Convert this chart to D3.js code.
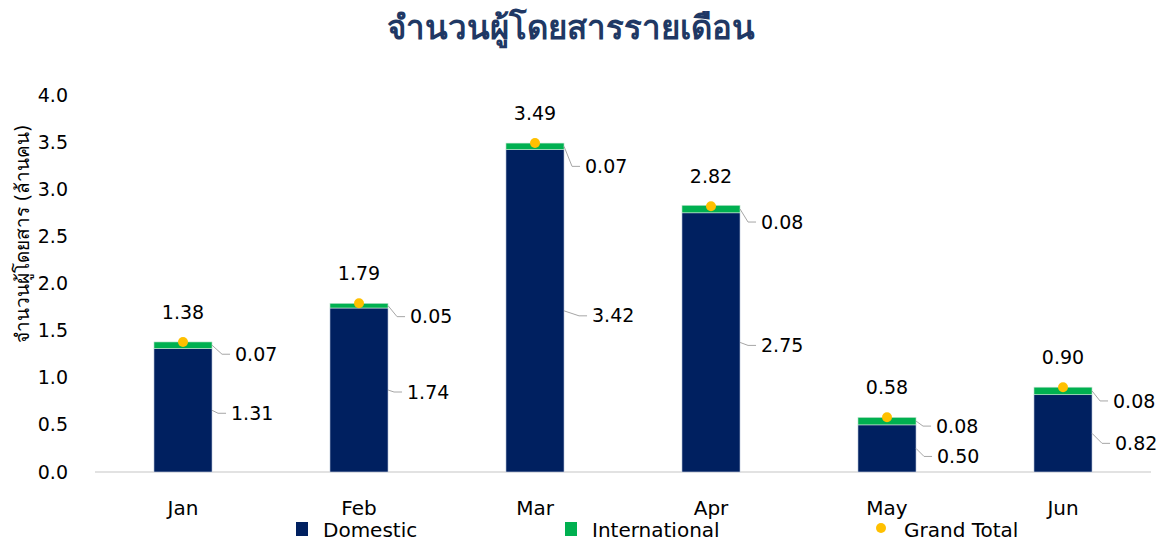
<!DOCTYPE html>
<html>
<head>
<meta charset="utf-8">
<script src="https://cdn.jsdelivr.net/npm/d3@7"></script>
<style>
  body { margin: 0; background: #fff; }
  text { font-family: Tahoma, "DejaVu Sans", "Noto Sans", sans-serif; }
</style>
</head>
<body>
<svg id="chart" width="1162" height="543"></svg>
<script>
// data (million passengers)
const months = ["Jan", "Feb", "Mar", "Apr", "May", "Jun"];
const domestic = [1.31, 1.74, 3.42, 2.75, 0.50, 0.82];
const international = [0.07, 0.05, 0.07, 0.08, 0.08, 0.08];
const grandTotal = [1.38, 1.79, 3.49, 2.82, 0.58, 0.90];
const yTicks = [0, 0.5, 1, 1.5, 2, 2.5, 3, 3.5, 4];

// label nudges (px), like the hand-dragged labels in the original
const intShiftY = [9, 11, 20, 13, 5, 10];
const domShiftY = [3, 2, 5, 3, 8, 10];
const intShiftX = [23, 22, 21, 21, 20, 21];
const domShiftX = [19, 19, 28, 21, 21, 23];

const colors = { dom: "#002060", intl: "#00B050", total: "#FFC000" };
const font = "Tahoma, 'DejaVu Sans', sans-serif";

const svg = d3.select("#chart");

const x = d3.scaleBand()
    .domain(months)
    .range([95, 1151])
    .paddingInner(0.67)
    .paddingOuter(0.335);

const y = d3.scaleLinear()
    .domain([0, 4])
    .range([472, 95]);

// title
svg.append("text")
    .attr("x", 571)
    .attr("y", 39)
    .attr("text-anchor", "middle")
    .attr("font-size", 33)
    .attr("font-weight", "bold")
    .attr("fill", "#203864")
    .text("จำนวนผู้โดยสารรายเดือน");

// y axis title
svg.append("text")
    .attr("transform", "translate(29,234) rotate(-90)")
    .attr("text-anchor", "middle")
    .attr("font-size", 19)
    .attr("fill", "#000")
    .text("จำนวนผู้โดยสาร (ล้านคน)");

// y axis
const yAxis = svg.append("g")
    .attr("transform", "translate(80,0)")
    .call(d3.axisLeft(y).tickValues(yTicks).tickFormat(d3.format(".1f")).tickSize(0).tickPadding(12));
yAxis.select(".domain").remove();
yAxis.selectAll("text")
    .attr("font-size", 19)
    .attr("font-family", font)
    .attr("fill", "#000");

// baseline
svg.append("line")
    .attr("x1", 95).attr("x2", 1151)
    .attr("y1", y(0)).attr("y2", y(0))
    .attr("stroke", "#d9d9d9")
    .attr("stroke-width", 1.5);

// x axis labels
const xAxis = svg.append("g")
    .attr("transform", `translate(0,${y(0)})`)
    .call(d3.axisBottom(x).tickSize(0).tickPadding(29));
xAxis.select(".domain").remove();
xAxis.selectAll("text")
    .attr("font-size", 20)
    .attr("font-family", font)
    .attr("fill", "#000");

// stacked bars
const bars = svg.append("g");
bars.selectAll("rect.dom")
    .data(months)
    .enter()
    .append("rect")
    .attr("class", "dom")
    .attr("x", d => x(d))
    .attr("y", (d, i) => y(domestic[i]))
    .attr("width", x.bandwidth())
    .attr("height", (d, i) => y(0) - y(domestic[i]))
    .attr("fill", colors.dom)
    .attr("stroke", "#cfd8e6")
    .attr("stroke-width", 0.6);

bars.selectAll("rect.intl")
    .data(months)
    .enter()
    .append("rect")
    .attr("class", "intl")
    .attr("x", d => x(d))
    .attr("y", (d, i) => y(domestic[i] + international[i]))
    .attr("width", x.bandwidth())
    .attr("height", (d, i) => y(domestic[i]) - y(domestic[i] + international[i]))
    .attr("fill", colors.intl)
    .attr("stroke", "#cfe8d8")
    .attr("stroke-width", 0.6);

// grand total dots
svg.append("g")
    .selectAll("circle")
    .data(months)
    .enter()
    .append("circle")
    .attr("cx", d => x(d) + x.bandwidth() / 2)
    .attr("cy", (d, i) => y(grandTotal[i]))
    .attr("r", 5)
    .attr("fill", colors.total);

// grand total labels
svg.append("g")
    .selectAll("text")
    .data(months)
    .enter()
    .append("text")
    .attr("x", d => x(d) + x.bandwidth() / 2)
    .attr("y", (d, i) => y(grandTotal[i]) - 30)
    .attr("dy", "0.35em")
    .attr("text-anchor", "middle")
    .attr("font-size", 19)
    .attr("font-family", font)
    .text((d, i) => grandTotal[i].toFixed(2));

// side labels with leader lines
function sideLabels(values, anchorFn, shiftX, shiftY) {
    const g = svg.append("g");
    months.forEach((m, i) => {
        const bx = x(m) + x.bandwidth();
        const ay = anchorFn(i);
        const lx = bx + shiftX[i];
        const ly = ay + shiftY[i];
        g.append("polyline")
            .attr("points", [[bx, ay], [lx - 13, ly], [lx - 5, ly]].map(p => p.join(",")).join(" "))
            .attr("fill", "none")
            .attr("stroke", "#a6a6a6")
            .attr("stroke-width", 1);
        g.append("text")
            .attr("x", lx)
            .attr("y", ly)
            .attr("dy", "0.35em")
            .attr("font-size", 19)
            .attr("font-family", font)
            .text(values[i].toFixed(2));
    });
}

sideLabels(international, i => y(domestic[i] + international[i] / 2), intShiftX, intShiftY);
sideLabels(domestic, i => y(domestic[i] / 2), domShiftX, domShiftY);

// legend
const legend = svg.append("g").attr("font-size", 20);
const legendItems = [
    { name: "Domestic", color: colors.dom, x: 296, shape: "rect" },
    { name: "International", color: colors.intl, x: 565, shape: "rect" },
    { name: "Grand Total", color: colors.total, x: 876, shape: "circle" }
];
legendItems.forEach(it => {
    if (it.shape === "rect") {
        legend.append("rect")
            .attr("x", it.x).attr("y", 522)
            .attr("width", 12).attr("height", 14)
            .attr("fill", it.color);
    } else {
        legend.append("circle")
            .attr("cx", it.x + 5).attr("cy", 528)
            .attr("r", 5)
            .attr("fill", it.color);
    }
    legend.append("text")
        .attr("x", it.x + (it.shape === "rect" ? 27 : 28))
        .attr("y", 530)
        .attr("dy", "0.35em")
        .attr("font-family", font)
        .text(it.name);
});
</script>
</body>
</html>
